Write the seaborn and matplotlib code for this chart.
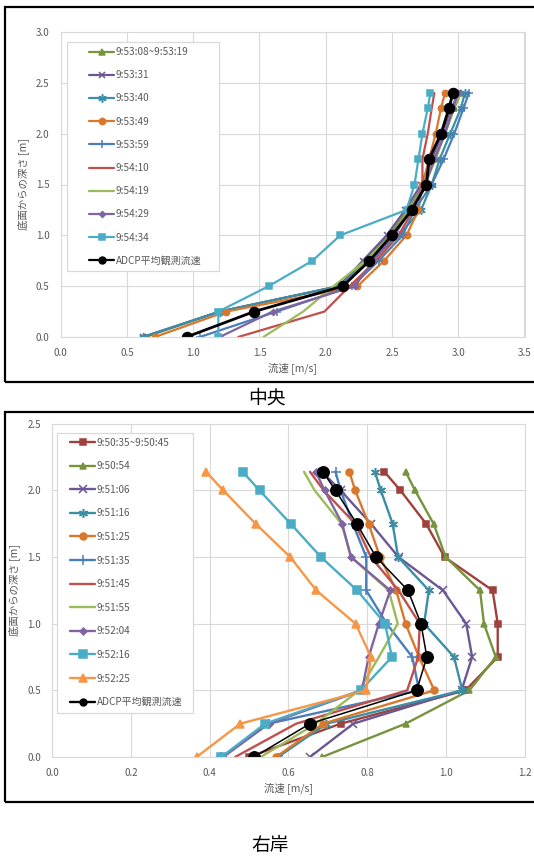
import matplotlib
matplotlib.use("Agg")
import matplotlib.pyplot as plt
import seaborn as sns
import numpy as np
from matplotlib.patches import Rectangle
from matplotlib.lines import Line2D

# ---------------- data: 中央 ----------------
TOP_DEPTH = [0.0, 0.25, 0.5, 0.75, 1.0, 1.25, 1.5, 1.75, 2.0, 2.25, 2.4]
TOP_LABELS = ["9:53:08~9:53:19", "9:53:31", "9:53:40", "9:53:49", "9:53:59",
              "9:54:10", "9:54:19", "9:54:29", "9:54:34", "ADCP平均観測流速"]
top_0853 = [0.64, 1.20, 2.10, 2.30, 2.48, 2.62, 2.74, 2.82, 2.90, 2.97, 3.02]
top_0931 = [0.62, 1.20, 2.10, 2.28, 2.46, 2.60, 2.72, 2.80, 2.88, 2.95, 3.00]
top_0940 = [0.62, 1.20, 2.10, 2.34, 2.55, 2.72, 2.80, 2.86, 2.94, 3.02, 3.05]
top_0949 = [0.71, 1.25, 2.24, 2.44, 2.61, 2.70, 2.73, 2.78, 2.83, 2.87, 2.90]
top_0959 = [1.05, 1.63, 2.20, 2.40, 2.58, 2.67, 2.80, 2.89, 2.97, 3.04, 3.08]
top_1010 = [1.34, 1.99, 2.18, 2.38, 2.55, 2.66, 2.73, 2.73, 2.77, 2.80, 2.82]
top_1019 = [1.53, 1.83, 2.06, 2.30, 2.50, 2.63, 2.75, 2.83, 2.90, 2.96, 3.02]
top_1029 = [1.20, 1.60, 2.22, 2.36, 2.52, 2.64, 2.75, 2.82, 2.90, 2.96, 3.00]
top_1034 = [1.19, 1.19, 1.57, 1.90, 2.11, 2.61, 2.67, 2.70, 2.73, 2.77, 2.79]
top_adcp = [0.95, 1.46, 2.13, 2.33, 2.50, 2.65, 2.76, 2.78, 2.87, 2.93, 2.96]

# ---------------- data: 右岸 ----------------
RB_DEPTH = [0.0, 0.25, 0.5, 0.75, 1.0, 1.25, 1.5, 1.75, 2.0, 2.14]
RB_LABELS = ["9:50:35~9:50:45", "9:50:54", "9:51:06", "9:51:16", "9:51:25",
             "9:51:35", "9:51:45", "9:51:55", "9:52:04", "9:52:16", "9:52:25",
             "ADCP平均観測流速"]
rb_5035 = [0.50, 0.733, 1.05, 1.132, 1.132, 1.119, 0.997, 0.950, 0.885, 0.844]
rb_5054 = [0.686, 0.898, 1.06, 1.127, 1.097, 1.087, 1.000, 0.969, 0.922, 0.898]
rb_5106 = [0.655, 0.765, 1.04, 1.067, 1.052, 0.993, 0.880, 0.810, 0.733, 0.685]
rb_5116 = [0.574, 0.697, 1.042, 1.021, 0.945, 0.957, 0.879, 0.865, 0.835, 0.820]
rb_5125 = [0.569, 0.688, 0.971, 0.932, 0.898, 0.874, 0.833, 0.804, 0.770, 0.755]
rb_5135 = [0.43, 0.55, 0.932, 0.915, 0.850, 0.798, 0.798, 0.764, 0.733, 0.720]
rb_5145 = [0.465, 0.620, 0.902, 0.930, 0.934, 0.880, 0.810, 0.770, 0.690, 0.655]
rb_5155 = [0.530, 0.670, 0.780, 0.830, 0.878, 0.855, 0.760, 0.735, 0.667, 0.640]
rb_5204 = [0.435, 0.550, 0.787, 0.804, 0.830, 0.859, 0.759, 0.737, 0.692, 0.670]
rb_5216 = [0.430, 0.541, 0.784, 0.863, 0.846, 0.775, 0.683, 0.606, 0.527, 0.484]
rb_5225 = [0.367, 0.478, 0.798, 0.810, 0.771, 0.671, 0.605, 0.517, 0.435, 0.391]
rb_adcp = [0.513, 0.655, 0.926, 0.952, 0.937, 0.904, 0.823, 0.774, 0.720, 0.688]

TOP_X_TICKS = [0.0, 0.5, 1.0, 1.5, 2.0, 2.5, 3.0, 3.5]
TOP_Y_TICKS = [0.0, 0.5, 1.0, 1.5, 2.0, 2.5, 3.0]
RB_X_TICKS = [0.0, 0.2, 0.4, 0.6, 0.8, 1.0, 1.2]
RB_Y_TICKS = [0.0, 0.5, 1.0, 1.5, 2.0, 2.5]

# ---------------- style ----------------
sns.set_theme(style="white")
plt.rcParams['font.family'] = ['Noto Sans CJK JP', 'DejaVu Sans']

W, H = 534, 856
fig = plt.figure(figsize=(W / 100, H / 100), dpi=100)
GRAY = "#595959"
GRID = "#D9D9D9"

STAR = (6, 2, 0)

top_styles = [
    ("#77933C", "^", 4.5), ("#6C5693", "x", 5), ("#3B8EA5", STAR, 6),
    ("#D9782D", "o", 4.5), ("#4A7EBB", "+", 6), ("#C0504D", "", 0),
    ("#9BBB59", "", 0), ("#8064A2", "D", 3), ("#4BACC6", "s", 5),
]
rb_styles = [
    ("#A0403C", "s", 5), ("#77933C", "^", 5), ("#6C5693", "x", 5.5),
    ("#3B8EA5", STAR, 6.5), ("#D9782D", "o", 5), ("#4A7EBB", "+", 6.5),
    ("#C0504D", "", 0), ("#9BBB59", "", 0), ("#8064A2", "D", 3.5),
    ("#4BACC6", "s", 5.5), ("#F79646", "^", 5.5),
]


def fx(px):
    return px / W


def fy(py):
    return 1 - py / H


def draw_panel(ax, depth, series, styles, labels, lw, black_lw, black_ms,
               xticks, yticks):
    handles = []
    for vals, (c, m, ms), lab in zip(series[:-1], styles, labels[:-1]):
        sns.lineplot(x=vals, y=depth, ax=ax, sort=False, estimator=None,
                     color=c, marker=m if m else None, markersize=ms,
                     markeredgecolor=c, markerfacecolor=c, markeredgewidth=1.1,
                     linewidth=lw, legend=False)
        handles.append(Line2D([], [], color=c, marker=m if m else None,
                              markersize=ms, markeredgecolor=c,
                              markerfacecolor=c, markeredgewidth=1.1,
                              linewidth=lw, label=lab))
    sns.lineplot(x=series[-1], y=depth, ax=ax, sort=False, estimator=None,
                 color="black", marker="o", markersize=black_ms,
                 markeredgecolor="black", markerfacecolor="black",
                 linewidth=black_lw, legend=False)
    handles.append(Line2D([], [], color="black", marker="o", markersize=5,
                          markeredgecolor="black", linewidth=lw,
                          label=labels[-1]))
    ax.set_xlim(xticks[0], xticks[-1])
    ax.set_ylim(yticks[0], yticks[-1])
    ax.set_xticks(xticks)
    ax.set_yticks(yticks)
    ax.set_xticklabels([f"{v:.1f}" for v in xticks])
    ax.set_yticklabels([f"{v:.1f}" for v in yticks])
    ax.grid(True, color=GRID, linewidth=0.8)
    ax.set_axisbelow(True)
    for s in ax.spines.values():
        s.set_color(GRID)
        s.set_linewidth(0.8)
    ax.tick_params(axis="both", length=0, labelsize=7, colors=GRAY, pad=8)
    ax.set_xlabel("流速 [m/s]", fontsize=7.5, color=GRAY, labelpad=3)
    ax.set_ylabel("底面からの深さ [m]", fontsize=7.5, color=GRAY, labelpad=5)
    return handles


# ---------------- 中央 panel ----------------
ax1 = fig.add_axes([fx(60.6), fy(337), fx(524.5 - 60.6), (337 - 32) / H])
top_series = [top_0853, top_0931, top_0940, top_0949, top_0959, top_1010,
              top_1019, top_1029, top_1034, top_adcp]
h1 = draw_panel(ax1, TOP_DEPTH, top_series, top_styles, TOP_LABELS,
                1.6, 2.0, 7.5, TOP_X_TICKS, TOP_Y_TICKS)

# legend frame + legend
fig.patches.append(Rectangle((fx(67.3), fy(270.7)), fx(219.3 - 67.3),
                             (270.7 - 41.7) / H, transform=fig.transFigure,
                             facecolor="white", edgecolor=GRID, linewidth=0.9,
                             zorder=2))
leg1 = fig.legend(handles=h1, loc="upper left",
                  bbox_to_anchor=(fx(89), fy(47)), frameon=False,
                  fontsize=7.2, labelcolor=GRAY, handlelength=2.5,
                  handletextpad=0.15, borderpad=0, borderaxespad=0,
                  labelspacing=1.32, numpoints=1)
leg1.set_zorder(3)

# ---------------- 右岸 panel ----------------
ax2 = fig.add_axes([fx(52.1), fy(757), fx(524.5 - 52.1), (757 - 423.8) / H])
rb_series = [rb_5035, rb_5054, rb_5106, rb_5116, rb_5125, rb_5135, rb_5145,
             rb_5155, rb_5204, rb_5216, rb_5225, rb_adcp]
h2 = draw_panel(ax2, RB_DEPTH, rb_series, rb_styles, RB_LABELS,
                1.7, 1.1, 8.5, RB_X_TICKS, RB_Y_TICKS)

fig.patches.append(Rectangle((fx(57.2), fy(713)), fx(193 - 57.2),
                             (713 - 432.7) / H, transform=fig.transFigure,
                             facecolor="white", edgecolor=GRID, linewidth=0.9,
                             zorder=2))
leg2 = fig.legend(handles=h2, loc="upper left",
                  bbox_to_anchor=(fx(70), fy(437.5)), frameon=False,
                  fontsize=7.2, labelcolor=GRAY, handlelength=2.5,
                  handletextpad=0.15, borderpad=0, borderaxespad=0,
                  labelspacing=1.36, numpoints=1)
leg2.set_zorder(3)

# ---------------- panel borders and captions ----------------
for (y0, y1) in [(6.8, 381.6), (412, 802)]:
    fig.patches.append(Rectangle((fx(5.5), fy(y1)), fx(540 - 5.5), (y1 - y0) / H,
                                 transform=fig.transFigure, facecolor="none",
                                 edgecolor="black", linewidth=1.6, zorder=5))

fig.text(0.5, fy(398), "中央", ha="center", va="center", fontsize=13.5,
         color="black")
fig.text(0.505, fy(846), "右岸", ha="center", va="center", fontsize=13.5,
         color="black")

fig.savefig("out.png", dpi=100, facecolor="white")
